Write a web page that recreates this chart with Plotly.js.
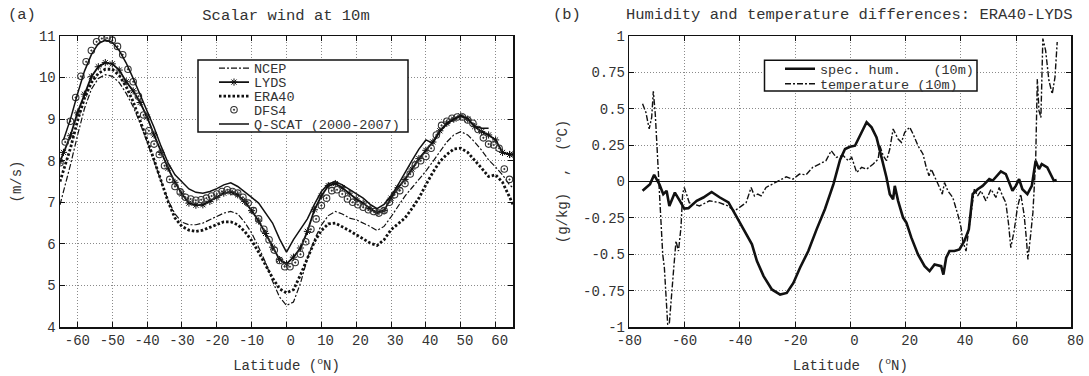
<!DOCTYPE html>
<html><head><meta charset="utf-8">
<script src="https://cdn.plot.ly/plotly-3.0.1.min.js"></script>
<style>html,body{margin:0;padding:0;background:#fff}#chart{width:1089px;height:376px}</style>
</head><body><div id="chart"></div>
<script>
// ---------- Panel (a): scalar wind at 10 m ----------
const latWind = [-65,-64,-62,-60,-58,-56,-54,-52,-50,-48,-46,-44,-42,-40,-38,-36,-34,-32,-30,-28,-26,-24,-22,-20,-18,-16,-14,-12,-10,-8,-6,-4,-2,0,2,4,6,8,10,12,14,16,18,20,22,24,26,28,30,32,34,36,38,40,42,44,46,48,50,52,54,56,58,60,62,64,65];
const ncep  = [6.94,7.25,7.9,8.6,9.25,9.72,9.98,10.07,10.03,9.88,9.62,9.3,8.9,8.45,8.0,7.5,7.05,6.72,6.52,6.46,6.46,6.5,6.58,6.66,6.74,6.78,6.72,6.52,6.26,5.92,5.55,5.1,4.72,4.52,4.6,5.05,5.65,6.1,6.45,6.68,6.78,6.72,6.62,6.58,6.5,6.42,6.32,6.42,6.65,6.9,7.15,7.35,7.55,7.75,7.98,8.22,8.45,8.62,8.7,8.62,8.45,8.25,8.02,7.85,7.66,7.42,7.35];
const era40 = [7.5,7.75,8.3,8.95,9.5,9.88,10.1,10.2,10.2,10.05,9.78,9.42,8.98,8.5,8.02,7.52,7.02,6.62,6.42,6.33,6.3,6.33,6.4,6.46,6.53,6.53,6.46,6.3,6.08,5.8,5.5,5.18,4.92,4.82,4.9,5.25,5.65,6.05,6.32,6.48,6.5,6.42,6.32,6.22,6.12,6.02,5.96,6.1,6.34,6.48,6.62,6.85,7.1,7.42,7.72,7.98,8.15,8.28,8.3,8.2,8.02,7.82,7.62,7.66,7.48,7.1,6.95];
const lyds  = [7.98,8.2,8.6,9.15,9.6,10.02,10.26,10.36,10.33,10.18,9.9,9.68,9.4,9.05,8.62,8.2,7.82,7.48,7.2,6.98,6.93,6.94,7.02,7.12,7.22,7.25,7.18,7.02,6.8,6.55,6.25,5.92,5.62,5.52,5.68,5.9,6.3,6.82,7.15,7.4,7.45,7.35,7.22,7.08,6.98,6.85,6.75,6.8,7.1,7.35,7.55,7.8,8.05,8.25,8.45,8.72,8.9,9.0,9.08,9.0,8.82,8.7,8.62,8.5,8.2,8.15,8.15];
const latDfs4 = [-65,-63.5,-62,-60.5,-59,-57.5,-56,-54.5,-53,-51.5,-50,-48.5,-47,-45.5,-44,-42.5,-41,-39.5,-38,-36.5,-35,-33.5,-32,-30.5,-29,-27.5,-26,-24.5,-23,-21.5,-20,-18.5,-17,-15.5,-14,-12.5,-11,-9.5,-8,-6.5,-5,-3.5,-2,-0.5,1,2.5,4,5.5,7,8.5,10,11.5,13,14.5,16,17.5,19,20.5,22,23.5,25,26.5,28,29.5,31,32.5,34,35.5,37,38.5,40,41.5,43,44.5,46,47.5,49,50.5,52,53.5,55,56.5,58,59.5,61,62.5,64];
const dfs4 = [7.95,8.45,8.95,9.52,10.03,10.38,10.65,10.86,10.94,10.95,10.9,10.75,10.55,10.2,9.9,9.55,9.1,8.72,8.4,8.15,7.88,7.55,7.38,7.25,7.12,7.08,7.05,7.06,7.1,7.15,7.2,7.26,7.3,7.26,7.22,7.12,6.98,6.8,6.6,6.35,6.1,5.85,5.6,5.45,5.45,5.55,5.75,6.05,6.35,6.6,6.92,7.1,7.28,7.3,7.2,7.08,7.0,6.94,6.88,6.82,6.78,6.74,6.8,7.0,7.18,7.28,7.45,7.68,7.9,8.0,8.1,8.3,8.62,8.85,8.95,9.02,9.05,9.05,8.98,8.9,8.75,8.55,8.4,8.38,8.3,7.8,7.55];
const latQscat = [-64,-62,-60,-58,-56,-54,-52,-50,-48,-46,-44,-42,-40,-38,-36,-34,-32,-30,-28,-26,-24,-22,-20,-18,-16,-14,-12,-10,-8,-6,-4,-2,0,2,4,6,8,10,12,14,16,18,20,22,24,26,28,30,32,34,36,38,40,42,44,46,48,50,52,54,56,58];
const qscat = [8.5,9.0,9.6,10.15,10.55,10.82,10.9,10.85,10.65,10.35,9.98,9.6,9.22,8.8,8.35,7.95,7.66,7.48,7.32,7.24,7.22,7.26,7.33,7.42,7.47,7.38,7.26,7.12,6.98,6.75,6.5,6.12,5.8,6.1,6.35,6.6,6.95,7.26,7.44,7.5,7.42,7.32,7.22,7.1,6.95,6.85,6.95,7.15,7.42,7.72,8.0,8.28,8.5,8.42,8.7,8.88,9.0,9.08,9.02,8.82,8.78,8.78];

// ---------- Panel (b): ERA40 - LYDS differences ----------
const latHum = [-75.2,-72.5,-71.0,-69.1,-67.7,-66.5,-65.5,-63.5,-61.7,-60.1,-58.6,-55.6,-53.2,-50.2,-47.2,-44.1,-41.7,-38.7,-35.6,-33.8,-31.4,-28.4,-25.4,-23.0,-20.6,-18.2,-15.2,-12.2,-9.2,-6.1,-3.7,-1.9,-0.1,1.7,3.5,5.9,7.7,9.5,11.3,13.1,14.3,15.5,16.1,17.3,19.1,20.3,22.1,24.5,26.9,28.7,30.5,32.9,33.7,34.7,35.9,37.7,39.5,41.3,42.9,44.3,46.1,47.9,50.3,51.5,54.5,56.3,58.7,59.9,61.1,62.3,64.1,65.7,67.1,68.3,69.3,71.3,73.7,74.7];
const specHum = [-0.064,-0.018,0.046,-0.02,-0.087,-0.064,-0.168,-0.076,-0.133,-0.186,-0.183,-0.133,-0.11,-0.072,-0.11,-0.144,-0.224,-0.329,-0.432,-0.547,-0.65,-0.742,-0.777,-0.766,-0.697,-0.593,-0.478,-0.329,-0.191,-0.018,0.15,0.223,0.239,0.246,0.315,0.407,0.372,0.303,0.166,0.028,-0.087,-0.122,-0.03,-0.133,-0.248,-0.283,-0.386,-0.501,-0.582,-0.616,-0.57,-0.582,-0.64,-0.524,-0.478,-0.478,-0.467,-0.409,-0.329,-0.087,-0.053,-0.03,0.016,0.005,0.069,0.051,-0.064,-0.03,0.016,-0.053,-0.087,-0.03,0.143,0.085,0.12,0.097,0.005,0.01];
const latTemp = [-75.2,-74.0,-72.8,-71.9,-71.3,-70.6,-69.7,-69.1,-68.5,-67.9,-67.3,-66.7,-66.1,-65.5,-64.9,-64.0,-63.1,-62.2,-61.3,-60.7,-60.1,-59.2,-58.3,-54.6,-51.0,-47.4,-44.3,-41.9,-40.1,-37.7,-35.9,-34.7,-33.5,-32.3,-30.5,-28.1,-25.6,-23.2,-20.8,-18.4,-16.0,-13.6,-11.2,-8.8,-6.9,-5.1,-2.6,-0.7,0.5,2.3,4.1,5.9,8.3,10.1,10.7,11.9,13.1,14.3,15.5,17.3,18.5,19.7,21.5,22.7,24.5,26.3,27.5,28.5,29.3,30.5,32.3,33.3,34.1,35.3,37.1,38.9,40.1,40.7,41.9,42.5,43.7,44.9,46.1,47.3,49.1,50.9,52.7,53.9,55.1,56.3,57.3,58.1,59.3,60.5,61.7,62.9,63.7,64.3,65.3,66.1,67.1,67.7,68.3,69.0,69.7,70.7,71.9,73.1,74.1,74.9];
const tempDiff = [0.534,0.476,0.361,0.44,0.62,0.464,0.143,-0.087,-0.271,-0.501,-0.593,-0.777,-0.984,-0.972,-0.8,-0.616,-0.409,-0.478,-0.317,-0.087,-0.041,-0.087,-0.145,-0.168,-0.133,-0.145,-0.168,-0.202,-0.179,-0.145,-0.041,-0.099,-0.087,-0.099,-0.041,-0.018,0.009,0.032,0.016,0.051,0.046,0.097,0.12,0.143,0.212,0.166,0.178,0.143,0.166,0.062,0.097,0.085,0.12,0.155,0.246,0.178,0.143,0.223,0.361,0.292,0.269,0.338,0.373,0.327,0.246,0.189,0.097,0.039,0.085,0.039,-0.041,-0.087,-0.007,-0.064,-0.11,-0.225,-0.317,-0.409,-0.478,-0.386,-0.225,-0.053,-0.099,-0.064,-0.133,-0.053,-0.11,-0.041,-0.099,-0.145,-0.294,-0.455,-0.34,-0.179,-0.087,-0.225,-0.386,-0.536,-0.363,-0.214,0.143,0.704,0.487,0.44,0.982,0.901,0.694,0.602,0.717,0.959];

// ---------- Tick labels ----------
const windXTickVals = [-60,-50,-40,-30,-20,-10,0,10,20,30,40,50,60];
const windXTickText = ['-60','-50','-40','-30','-20','-10','\u00a00','\u00a010','\u00a020','\u00a030','\u00a040','\u00a050','\u00a060'];
const windYTickVals = [4,5,6,7,8,9,10,11];
const windYTickText = ['4','5','6','7','8','9','10','11'];
const diffXTickVals = [-80,-60,-40,-20,0,20,40,60,80];
const diffXTickText = ['-80','-60','-40','-20','\u00a00','\u00a020','\u00a040','\u00a060','\u00a080'];
const diffYTickVals = [-1,-0.75,-0.5,-0.25,0,0.25,0.5,0.75,1];
const diffYTickText = ['-1','-0.75','-0.5','-0.25','0','0.25','0.5','0.75','1'];

// ---------- Layout helpers ----------
const W = 1089, H = 376, MT = 36, MB = 49, PH = H - MT - MB;
const FONT = 'Liberation Mono, Courier New, monospace';
const TXT = '#333';
const px = v => v / W;
const py = v => (H - MB - v) / PH;
const font = (s) => ({family: FONT, size: s, color: TXT});

const axBase = {
  showline: true, linecolor: '#111', linewidth: 1.5, mirror: 'allticks',
  ticks: 'inside', ticklen: 5, tickwidth: 1, tickcolor: '#111',
  showgrid: true, gridcolor: '#8a8a8a', griddash: '1px,2px', gridwidth: 1,
  zeroline: false, tickfont: font(14), tickmode: 'array', fixedrange: true
};

const DASHDOT = '6px,2px,2px,2px';
const traces = [
  {x: latWind, y: ncep, name: 'NCEP', mode: 'lines', xaxis: 'x', yaxis: 'y', legend: 'legend',
   line: {color: '#111', width: 1.2, dash: DASHDOT}},
  {x: latWind, y: lyds, name: 'LYDS', mode: 'lines+markers', xaxis: 'x', yaxis: 'y', legend: 'legend2',
   line: {color: '#111', width: 1.8},
   marker: {symbol: 'asterisk-open', size: 6, color: '#111', line: {color: '#111', width: 1}}},
  {x: latWind, y: era40, name: 'ERA40', mode: 'lines', xaxis: 'x', yaxis: 'y', legend: 'legend3',
   line: {color: '#111', width: 2.8, dash: '2.5px,2px'}},
  {x: latDfs4, y: dfs4, name: 'DFS4', mode: 'markers', xaxis: 'x', yaxis: 'y', legend: 'legend4',
   marker: {symbol: 'circle-open-dot', size: 6.5, color: '#333', line: {color: '#333', width: 1.1}}},
  {x: latQscat, y: qscat, name: 'Q-SCAT (2000-2007)', mode: 'lines', xaxis: 'x', yaxis: 'y', legend: 'legend5',
   line: {color: '#111', width: 1.5}},
  {x: latHum, y: specHum, name: 'spec. hum.\u00a0\u00a0\u00a0\u00a0(10m)', mode: 'lines', xaxis: 'x2', yaxis: 'y2', legend: 'legend6',
   line: {color: '#111', width: 2.6}},
  {x: latTemp, y: tempDiff, name: 'temperature (10m)', mode: 'lines', xaxis: 'x2', yaxis: 'y2', legend: 'legend7',
   line: {color: '#111', width: 1.4, dash: DASHDOT}}
];

function leg(xp, yp) {
  return {x: xp, y: yp, xanchor: 'left', yanchor: 'middle', bgcolor: 'rgba(0,0,0,0)',
          borderwidth: 0, font: font(13.5), itemclick: false, itemdoubleclick: false};
}

const layout = {
  width: W, height: H, paper_bgcolor: '#fff', plot_bgcolor: '#fff',
  margin: {l: 0, r: 0, t: MT, b: MB, pad: 0},
  showlegend: true,
  title: {text: 'Scalar wind at 10m', font: font(15.5), x: 286 / W, xanchor: 'center',
          xref: 'container', yref: 'container', y: 1 - 15 / H, yanchor: 'middle'},
  xaxis: Object.assign({}, axBase, {domain: [px(60), px(513)], range: [-65, 65], anchor: 'y',
          tickvals: windXTickVals, ticktext: windXTickText,
          title: {text: 'Latitude (<sup>o</sup>N)', font: font(14), standoff: 12}}),
  yaxis: Object.assign({}, axBase, {domain: [0, 1], range: [4, 11], anchor: 'x',
          tickvals: windYTickVals, ticktext: windYTickText,
          title: {text: '(m/s)', font: font(14), standoff: 14}}),
  xaxis2: Object.assign({}, axBase, {domain: [px(629.3), px(1071.3)], range: [-80, 80], anchor: 'y2',
          tickvals: diffXTickVals, ticktext: diffXTickText,
          title: {text: 'Latitude\u00a0\u00a0(<sup>o</sup>N)', font: font(14), standoff: 12}}),
  yaxis2: Object.assign({}, axBase, {domain: [0, 1], range: [-1, 1], anchor: 'x2',
          tickvals: diffYTickVals, ticktext: diffYTickText,
          zeroline: true, zerolinecolor: '#111', zerolinewidth: 1.5,
          title: {text: '(g/kg)\u00a0\u00a0,\u00a0\u00a0(<sup>o</sup>C)', font: font(14), standoff: 12}}),
  legend:  leg(px(214), py(68.3)),
  legend2: leg(px(214), py(82.3)),
  legend3: leg(px(214), py(96.3)),
  legend4: leg(px(214), py(110)),
  legend5: leg(px(214), py(124.3)),
  legend6: leg(px(780), py(69)),
  legend7: leg(px(780), py(84)),
  shapes: [
    {type: 'rect', xref: 'paper', yref: 'paper', x0: px(198), x1: px(408), y0: py(132), y1: py(60),
     line: {color: '#111', width: 1.5}, fillcolor: '#fff', layer: 'above'},
    {type: 'rect', xref: 'paper', yref: 'paper', x0: px(764.5), x1: px(977), y0: py(91), y1: py(60.2),
     line: {color: '#111', width: 1.5}, fillcolor: '#fff', layer: 'above'}
  ],
  annotations: [
    {text: '(a)', xref: 'paper', yref: 'paper', x: px(21.7), y: py(15), xanchor: 'center', yanchor: 'middle', showarrow: false, font: font(15.5)},
    {text: '(b)', xref: 'paper', yref: 'paper', x: px(567), y: py(15), xanchor: 'center', yanchor: 'middle', showarrow: false, font: font(15.5)},
    {text: 'Humidity and temperature differences: ERA40-LYDS', xref: 'paper', yref: 'paper', x: px(849), y: py(15),
     xanchor: 'center', yanchor: 'middle', showarrow: false, font: font(15.5)}
  ]
};

Plotly.newPlot('chart', traces, layout, {staticPlot: true, displayModeBar: false});
</script>
</body></html>
